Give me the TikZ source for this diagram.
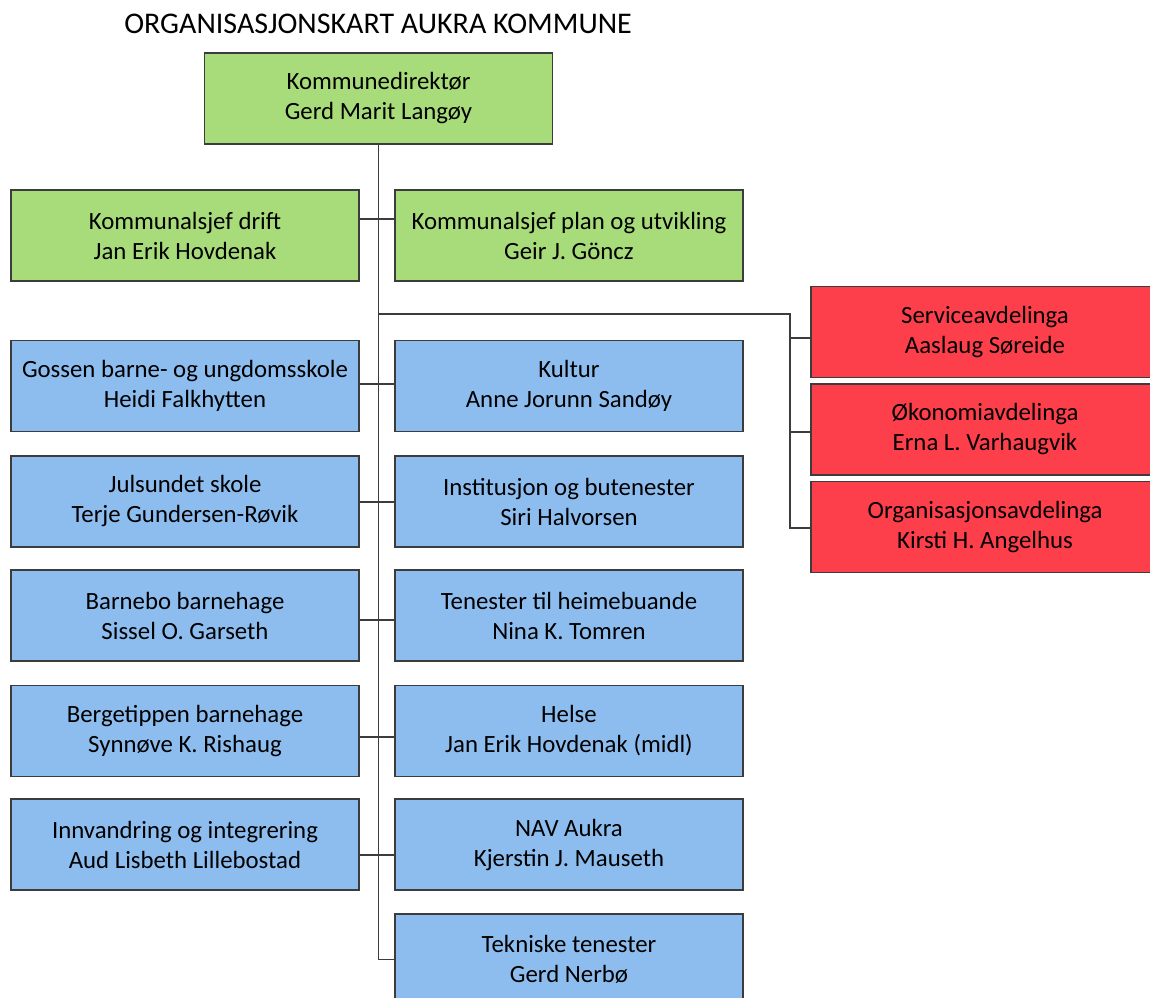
\documentclass[tikz,border=0pt]{standalone}
\usepackage{fontspec}
\setmainfont{Carlito}
\definecolor{gbox}{RGB}{168,220,122}
\definecolor{bbox}{RGB}{141,189,239}
\definecolor{rbox}{RGB}{253,63,75}
\definecolor{edge}{RGB}{60,60,60}
\begin{document}
\begin{tikzpicture}[x=1pt,y=-1pt,
  orgbox/.style={draw=edge, line width=1.2pt, minimum width=348pt, minimum height=91pt,
    inner sep=0pt, align=center, font=\fontsize{24.8}{30}\selectfont},
  gnode/.style={orgbox, fill=gbox},
  bnode/.style={orgbox, fill=bbox},
  rnode/.style={orgbox, fill=rbox},
  conn/.style={draw=edge, line width=1.2pt}]
\useasboundingbox (0,0) rectangle (1150,997);
\clip (0,0) rectangle (1150,997);

\node[anchor=base, font=\fontsize{30}{36}\selectfont] (title) at (378,33) {ORGANISASJONSKART AUKRA KOMMUNE};

\node[gnode] (top) at (378.5,98.5) {Kommunedirektør\\Gerd Marit Langøy};
\node[gnode] (drift) at (185,235.5) {Kommunalsjef drift\\Jan Erik Hovdenak};
\node[gnode] (plan) at (569,235.5) {Kommunalsjef plan og utvikling\\Geir J. Göncz};

\node[bnode] (l1) at (185,386) {Gossen barne- og ungdomsskole\\Heidi Falkhytten};
\node[bnode] (r1) at (569,386) {Kultur\\Anne Jorunn Sandøy};
\node[bnode] (l2) at (185,501.5) {Julsundet skole\\Terje Gundersen-Røvik};
\node[bnode] (r2) at (569,501.5) {Institusjon og butenester\\Siri Halvorsen};
\node[bnode] (l3) at (185,615.5) {Barnebo barnehage\\Sissel O. Garseth};
\node[bnode] (r3) at (569,615.5) {Tenester til heimebuande\\Nina K. Tomren};
\node[bnode] (l4) at (185,731) {Bergetippen barnehage\\Synnøve K. Rishaug};
\node[bnode] (r4) at (569,731) {Helse\\Jan Erik Hovdenak (midl)};
\node[bnode] (l5) at (185,844.5) {Innvandring og integrering\\Aud Lisbeth Lillebostad};
\node[bnode] (r5) at (569,844.5) {NAV Aukra\\Kjerstin J. Mauseth};
\node[bnode] (r6) at (569,959.5) {Tekniske tenester\\Gerd Nerbø};

\node[rnode] (s1) at (985,332) {Serviceavdelinga\\Aaslaug Søreide};
\node[rnode] (s2) at (985,429.5) {Økonomiavdelinga\\Erna L. Varhaugvik};
\node[rnode] (s3) at (985,527) {Organisasjonsavdelinga\\Kirsti H. Angelhus};

% trunk
\draw[conn] (top.south) |- (r6.west);
\draw[conn] ([yshift=16.5pt]drift.east) -- ([yshift=16.5pt]plan.west);
\draw[conn] ([yshift=2pt]l1.east) -- ([yshift=2pt]r1.west);
\draw[conn] ([yshift=-0.5pt]l2.east) -- ([yshift=-0.5pt]r2.west);
\draw[conn] ([yshift=-4.5pt]l3.east) -- ([yshift=-4.5pt]r3.west);
\draw[conn] ([yshift=-6pt]l4.east) -- ([yshift=-6pt]r4.west);
\draw[conn] ([yshift=-10.5pt]l5.east) -- ([yshift=-10.5pt]r5.west);

% right branch
\coordinate (bj) at (378.5,314);
\coordinate (rb) at (790,314);
\draw[conn] (bj) -- (rb) |- ([yshift=-1pt]s3.west);
\draw[conn] ([yshift=-6pt]s1.west -| rb) -- ([yshift=-6pt]s1.west);
\draw[conn] ([yshift=-2.5pt]s2.west -| rb) -- ([yshift=-2.5pt]s2.west);
\end{tikzpicture}
\end{document}
